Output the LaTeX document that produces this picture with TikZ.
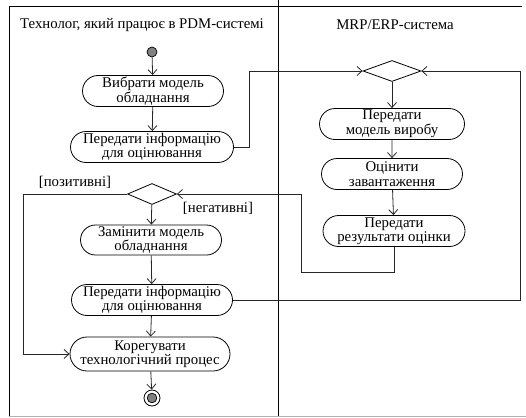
\documentclass[tikz,border=0pt]{standalone}
\usepackage{fontspec}
\setmainfont{Liberation Serif}
\usetikzlibrary{shapes.misc,shapes.geometric,arrows.meta}
\begin{document}
\begin{tikzpicture}[x=1pt,y=-1pt,
  font=\fontsize{14.8}{14.5}\selectfont,
  line/.style={draw=black!85,line width=0.8pt},
  arr/.style={line,-{Straight Barb[length=5pt,width=9pt,line width=0.8pt]}},
  action/.style={rounded rectangle,draw,line width=0.8pt,align=center,inner sep=1pt,minimum height=31pt},
  choice/.style={diamond,draw,line width=0.8pt,inner sep=0pt},
  startnode/.style={circle,draw,fill=black!50,inner sep=0pt,minimum size=10pt,line width=0.7pt},
  stopnode/.style={circle,draw,inner sep=0pt,minimum size=16pt,line width=0.8pt,
    path picture={\draw[fill=black!50,line width=0.7pt] (path picture bounding box.center) circle (4.8pt);}},
  guard/.style={}]
\useasboundingbox (0,0) rectangle (526,417);

% swimlane frame
\draw[line width=0.8pt] (9,417) -- (9,6) -- (522,6);
\draw[line width=0.8pt] (278,0) -- (278,417);
\draw[black!30,line width=0.8pt] (9,416) -- (526,416);

% lane titles
\node (lane1) at (142,25) {Технолог, який працює в PDM-системі};
\node (lane2) at (395,25) {MRP/ERP-система};

% left lane
\node[startnode] (start) at (152,52) {};
\node[action,minimum width=143pt] (a1) at (153,91) {Вибрати модель\\обладнання};
\node[action,minimum width=165pt] (a2) at (152,147) {Передати інформацію\\для оцінювання};
\node[choice,minimum width=49pt,minimum height=21pt] (d1) at (152,194) {};
\node[action,minimum width=143pt,minimum height=30pt] (a3) at (151,240) {Замінити модель\\обладнання};
\node[action,minimum width=163pt] (a4) at (152,300) {Передати інформацію\\для оцінювання};
\node[action,minimum width=162pt,minimum height=34pt] (a5) at (150,354) {Корегувати\\технологічний процес};
\node[stopnode] (stop) at (152,398) {};

% right lane
\node[choice,minimum width=58pt,minimum height=21pt] (d2) at (392,71) {};
\node[action,minimum width=147pt] (b1) at (392,124) {Передати\\модель виробу};
\node[action,minimum width=143pt] (b2) at (392,174) {Оцінити\\завантаження};
\node[action,minimum width=144pt] (b3) at (394,231) {Передати\\результати оцінки};

% guards
\node[guard] (gpos) at (75,182) {[позитивні]};
\node[guard] (gneg) at (218,208) {[негативні]};

% bend points
\coordinate (r1) at (249,147);
\coordinate (r2) at (520,300);
\coordinate (r3) at (301,272);
\coordinate (l1) at (23,194);

% flows
\draw[arr] (start) -- (a1);
\draw[arr] (a1) -- (a2);
\draw[arr] (a2.east) -- (r1) |- (d2.west);
\draw[arr] (d2) -- (b1);
\draw[arr] (b1) -- (b2);
\draw[arr] (b2) -- (b3);
\draw[arr] (b3.south) |- (r3) |- (d1.east);
\draw[arr] (d1) -- (a3);
\draw[arr] (d1.west) -- (l1) |- (a5.west);
\draw[arr] (a3) -- (a4);
\draw[arr] (a4.east) -- (r2) |- (d2.east);
\draw[arr] (a4) -- (a5);
\draw[arr] (a5) -- (stop);
\end{tikzpicture}
\end{document}
